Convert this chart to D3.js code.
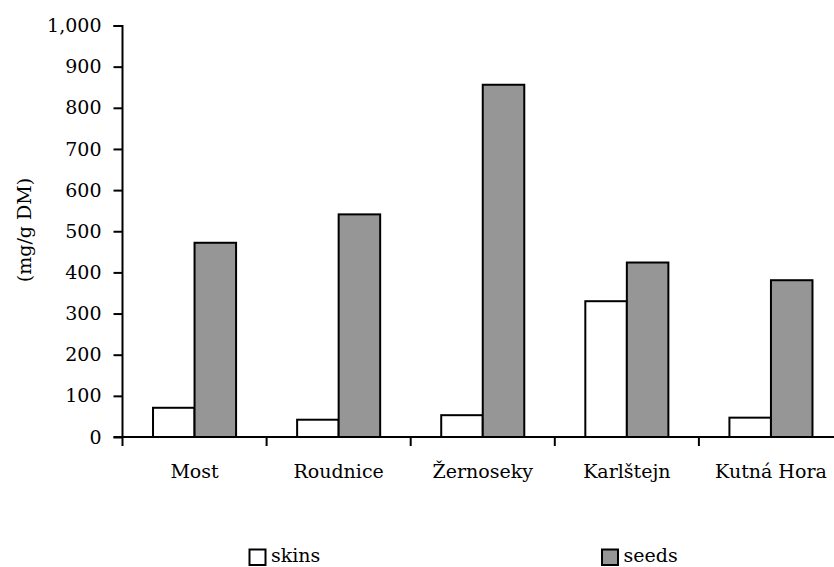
<!DOCTYPE html>
<html>
<head>
<meta charset="utf-8">
<script src="https://cdn.jsdelivr.net/npm/d3@7"></script>
<style>
  body { margin: 0; background: #fff; }
</style>
</head>
<body>
<svg id="chart" width="834" height="567"></svg>
<script>
// data
var sites = ["Most", "Roudnice", "Žernoseky", "Karlštejn", "Kutná Hora"];
var seriesNames = ["skins", "seeds"];
var skins = [71, 42, 53, 330, 47];
var seeds = [472, 541, 856, 424, 381];
var yTicks = [0, 100, 200, 300, 400, 500, 600, 700, 800, 900, 1000];

var colors = { skins: "#ffffff", seeds: "#969696" };
var fontFam = "'DejaVu Serif', 'Liberation Serif', serif";
var fs = 19;

var rows = sites.map(function(s, i) {
  return { site: s, skins: skins[i], seeds: seeds[i] };
});

// set the dimensions and margins of the graph
var margin = {top: 25.5, left: 122.5},
    width = 843 - margin.left,
    height = 437 - margin.top;

var svg = d3.select("#chart")
    .attr("font-family", fontFam)
  .append("g")
    .attr("transform", "translate(" + margin.left + "," + margin.top + ")");

var x0 = d3.scaleBand()
  .domain(sites)
  .range([0, width]);

var x1 = d3.scaleBand()
  .domain(seriesNames)
  .range([0, x0.bandwidth()])
  .paddingOuter(0.735);

var y = d3.scaleLinear()
  .domain([0, 1000])
  .range([height, 0]);

// bars
var groups = svg.append("g")
  .selectAll("g")
  .data(rows)
  .enter()
  .append("g")
    .attr("transform", function(d) { return "translate(" + x0(d.site) + ",0)"; });

groups.selectAll("rect")
  .data(function(d) { return seriesNames.map(function(k) { return {key: k, value: d[k]}; }); })
  .enter()
  .append("rect")
    .attr("x", function(d) { return x1(d.key); })
    .attr("y", function(d) { return y(d.value); })
    .attr("width", x1.bandwidth())
    .attr("height", function(d) { return height - y(d.value); })
    .style("fill", function(d) { return colors[d.key]; })
    .style("stroke", "#000")
    .style("stroke-width", 2);

// Y axis
var yAxis = svg.append("g")
  .call(d3.axisLeft(y)
    .tickValues(yTicks)
    .tickSize(9)
    .tickPadding(12)
    .tickFormat(d3.format(",")));

// X axis, ticks sit on the band edges
var xAxis = svg.append("g")
  .attr("transform", "translate(0," + height + ")")
  .call(d3.axisBottom(x0).tickSize(0).tickPadding(28));

xAxis.selectAll(".edge")
  .data(sites)
  .enter()
  .append("line")
    .attr("class", "edge")
    .attr("x1", function(d) { return x0(d); })
    .attr("x2", function(d) { return x0(d); })
    .attr("y1", 0)
    .attr("y2", 9)
    .attr("stroke", "#000")
    .attr("stroke-width", 2);

svg.selectAll(".domain, .tick line")
  .attr("stroke", "#000")
  .attr("stroke-width", 2);
yAxis.select(".domain").attr("d", "M-9,0.5H0V" + height);
xAxis.select(".domain").attr("d", "M-9,0H" + width);

yAxis.attr("font-family", fontFam).attr("font-size", fs);
xAxis.attr("font-family", fontFam).attr("font-size", fs);
svg.selectAll(".tick text").attr("fill", "#000");

// y axis title
d3.select("#chart").append("text")
  .attr("transform", "translate(31,230) rotate(-90)")
  .attr("text-anchor", "middle")
  .attr("font-size", fs)
  .text("(mg/g DM)");

// legend
var legend = d3.select("#chart").append("g").attr("font-size", fs);
var legendX = [249.5, 602];
seriesNames.forEach(function(k, i) {
  legend.append("rect")
    .attr("x", legendX[i])
    .attr("y", 549.5)
    .attr("width", 16)
    .attr("height", 15.5)
    .style("fill", colors[k])
    .style("stroke", "#000")
    .style("stroke-width", 2);
  legend.append("text")
    .attr("x", legendX[i] + 21.5)
    .attr("y", 562)
    .text(k);
});
</script>
</body>
</html>
